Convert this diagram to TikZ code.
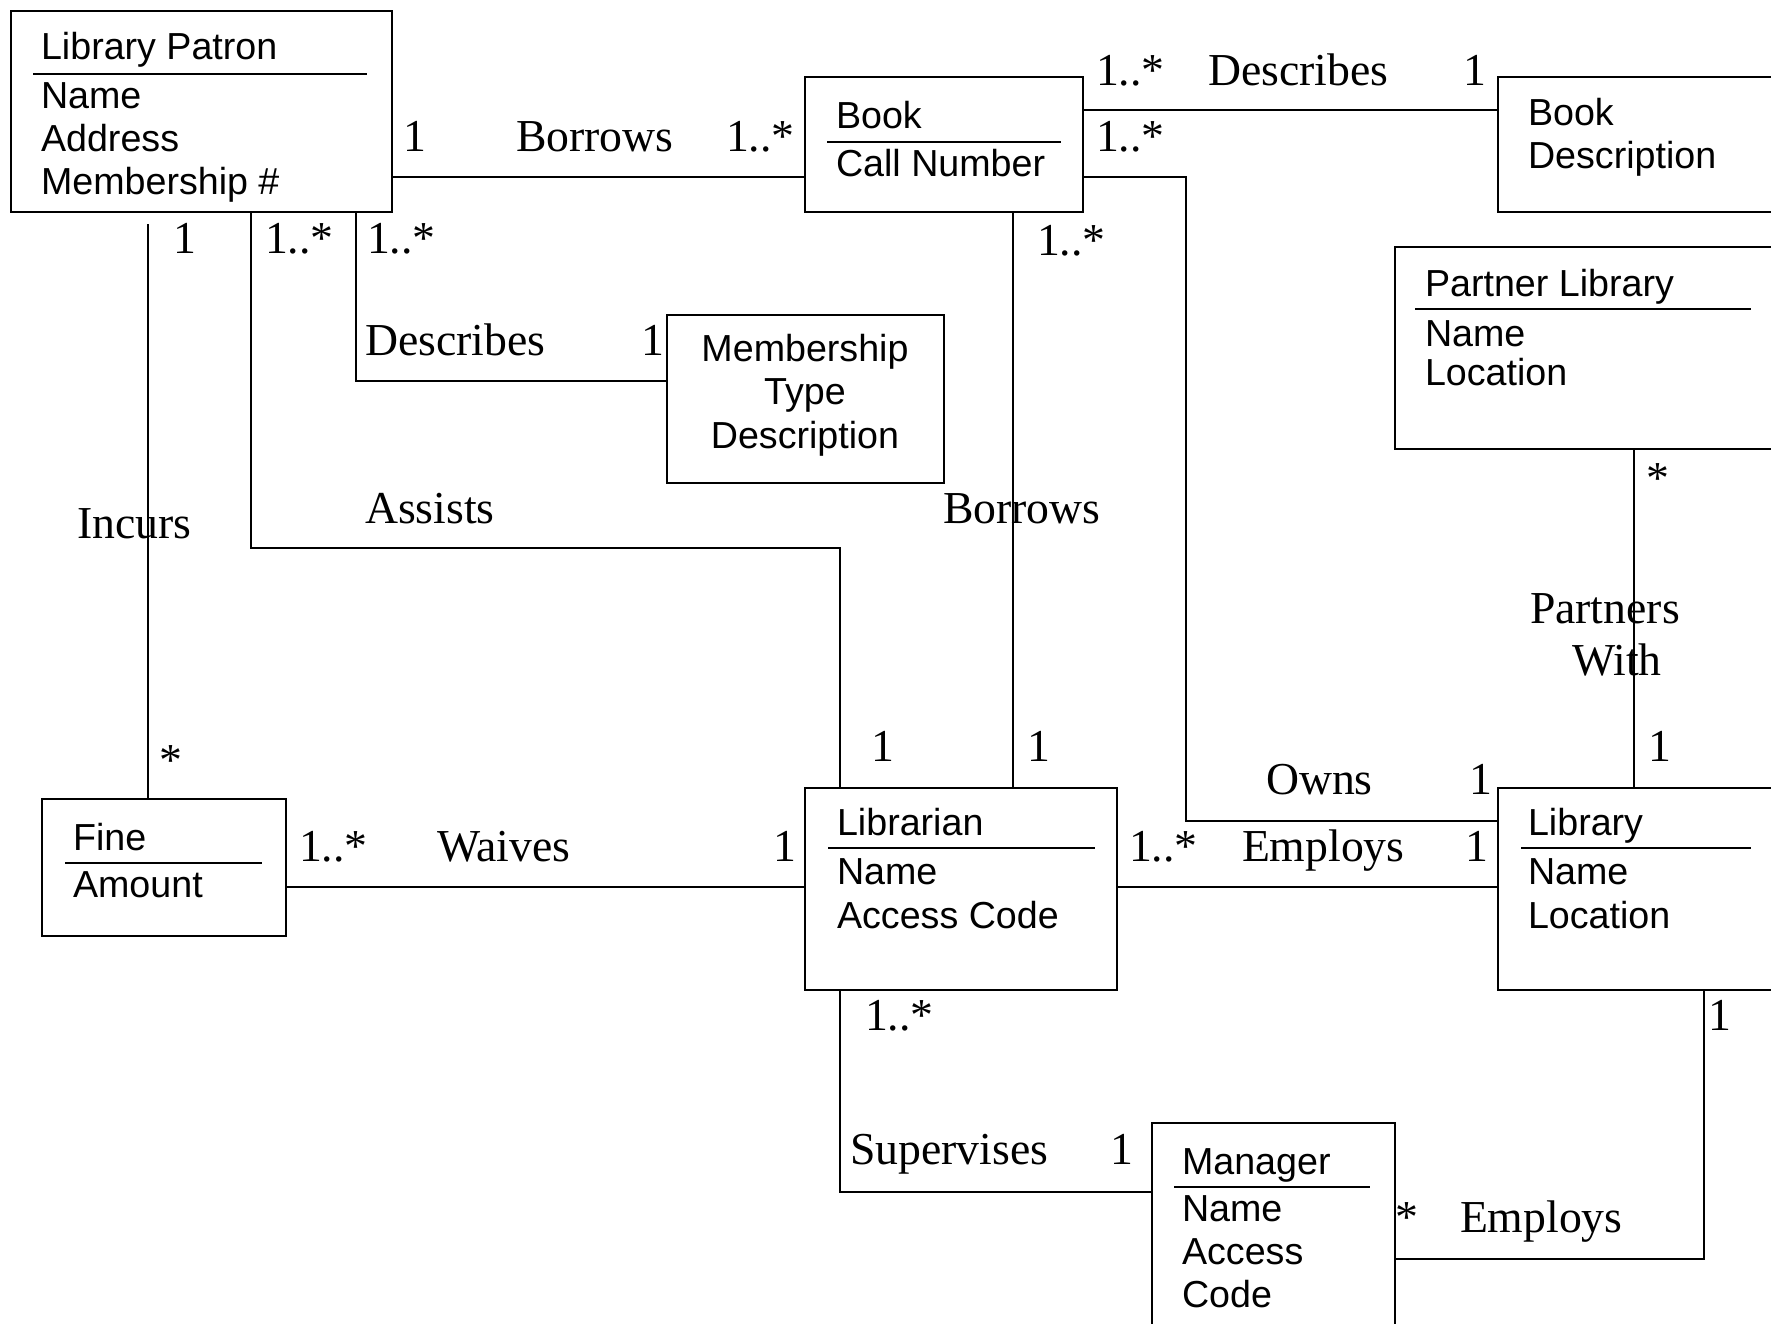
\documentclass[tikz,border=0pt]{standalone}
\usepackage{fontspec}
\setmainfont{Liberation Serif}
\setsansfont{Liberation Sans}
\tikzset{
  cls/.style={draw,line width=0.6pt,anchor=north west,inner sep=0pt},
  attr/.style={font=\sffamily\fontsize{10.7}{12.2}\selectfont,anchor=base west,inner sep=0pt},
  lbl/.style={font=\fontsize{13}{15}\selectfont,anchor=base west,inner sep=0pt,xshift=-0.03cm},
}
\begin{document}
\begin{tikzpicture}[x=0.01cm,y=-0.01cm,line width=0.6pt]
        \useasboundingbox (0,0) rectangle (1771,1324);
        \clip (0,0) rectangle (1771,1324);
        % classes
        \node[cls,minimum width=3.81cm,minimum height=2.01cm] (patron) at (10,10) {};
        \node[attr] at (40,59) {Library Patron};
        \draw (33,74) -- (367,74);
        \foreach \t [count=\i] in {Name,Address,Membership \#} \node[attr] at (40,{108+43*(\i-1)}) {\t};
        \node[cls,minimum width=2.78cm,minimum height=1.35cm] (book) at (804,76) {};
        \node[attr] at (835,128) {Book};
        \draw (827,142) -- (1061,142);
        \node[attr] at (835,176) {Call Number};
        \node[cls,minimum width=3cm,minimum height=1.35cm] (bookdesc) at (1497,76) {};
        \node[attr] at (1527,125) {Book};
        \node[attr] at (1527,168) {Description};
        \node[cls,minimum width=4cm,minimum height=2.02cm] (partner) at (1394,246) {};
        \node[attr] at (1424,296) {Partner Library};
        \draw (1415,309) -- (1751,309);
        \node[attr] at (1424,346) {Name};
        \node[attr] at (1424,386) {Location};
        \node[cls,minimum width=2.77cm,minimum height=1.68cm] (mtype) at (666,314) {};
        \foreach \t [count=\i] in {Membership,Type,Description} \node[attr,anchor=base] at (805,{361+43.5*(\i-1)}) {\t};
        \node[cls,minimum width=2.44cm,minimum height=1.37cm] (fine) at (41,798) {};
        \node[attr] at (72,850) {Fine};
        \draw (65,863) -- (262,863);
        \node[attr] at (72,897) {Amount};
        \node[cls,minimum width=3.12cm,minimum height=2.02cm] (librarian) at (804,787) {};
        \node[attr] at (836,835) {Librarian};
        \draw (828,848) -- (1095,848);
        \node[attr] at (836,884) {Name};
        \node[attr] at (836,928) {Access Code};
        \node[cls,minimum width=3cm,minimum height=2.02cm] (library) at (1497,787) {};
        \node[attr] at (1527,835) {Library};
        \draw (1521,848) -- (1751,848);
        \node[attr] at (1527,884) {Name};
        \node[attr] at (1527,928) {Location};
        \node[cls,minimum width=2.43cm,minimum height=2.3cm] (manager) at (1151,1122) {};
        \node[attr] at (1181,1174) {Manager};
        \draw (1174,1187) -- (1370,1187);
        \foreach \t [count=\i] in {Name,Access,Code} \node[attr] at (1181,{1221+43*(\i-1)}) {\t};
        % associations
        \coordinate (incurstop) at (148,224);
        \draw (patron.east |- 0,177) -- (book.west |- 0,177);
        \draw (book.east |- 0,110) -- (bookdesc.west |- 0,110);
        \draw (book.east |- 0,177) -| (1186,821) -- (library.west |- 0,821);
        \draw (book.south -| 1013,0) -- (librarian.north -| 1013,0);
        \draw (incurstop) -- (fine.north -| incurstop);
        \draw (patron.south -| 251,0) |- (840,548) -- (librarian.north -| 840,0);
        \draw (patron.south -| 356,0) |- (mtype.west |- 0,381);
        \draw (fine.east |- 0,887) -- (librarian.west |- 0,887);
        \draw (librarian.east |- 0,887) -- (library.west |- 0,887);
        \draw (librarian.south -| 840,0) |- (manager.west |- 0,1192);
        \draw (manager.east |- 0,1259) -| (library.south -| 1704,0);
        \draw (partner.south -| 1634,0) -- (library.north -| 1634,0);
        % labels
        \node[lbl] at (405,152) {1};
        \node[lbl] at (518,152) {Borrows};
        \node[lbl] at (728,152) {1..*};
        \node[lbl] at (1098,85) {1..*};
        \node[lbl] at (1210,85) {Describes};
        \node[lbl] at (1465,85) {1};
        \node[lbl] at (1098,152) {1..*};
        \node[lbl] at (1039,255) {1..*};
        \node[lbl] at (945,523) {Borrows};
        \node[lbl] at (1029,761) {1};
        \node[lbl] at (175,254) {1};
        \node[lbl] at (267,254) {1..*};
        \node[lbl] at (369,254) {1..*};
        \node[lbl] at (367,355) {Describes};
        \node[lbl] at (643,355) {1};
        \node[lbl] at (79,538) {Incurs};
        \node[lbl] at (161,775) {*};
        \node[lbl] at (367,523) {Assists};
        \node[lbl] at (873,761) {1};
        \node[lbl] at (301,861) {1..*};
        \node[lbl] at (439,861) {Waives};
        \node[lbl] at (775,861) {1};
        \node[lbl] at (1131,861) {1..*};
        \node[lbl] at (1244,861) {Employs};
        \node[lbl] at (1467,861) {1};
        \node[lbl] at (1268,794) {Owns};
        \node[lbl] at (1471,794) {1};
        \node[lbl] at (1648,493) {*};
        \node[lbl] at (1532,623) {Partners};
        \node[lbl] at (1574,675) {With};
        \node[lbl] at (1650,761) {1};
        \node[lbl] at (867,1030) {1..*};
        \node[lbl] at (852,1164) {Supervises};
        \node[lbl] at (1112,1164) {1};
        \node[lbl] at (1397,1232) {*};
        \node[lbl] at (1462,1232) {Employs};
        \node[lbl] at (1710,1030) {1};
\end{tikzpicture}
\end{document}
